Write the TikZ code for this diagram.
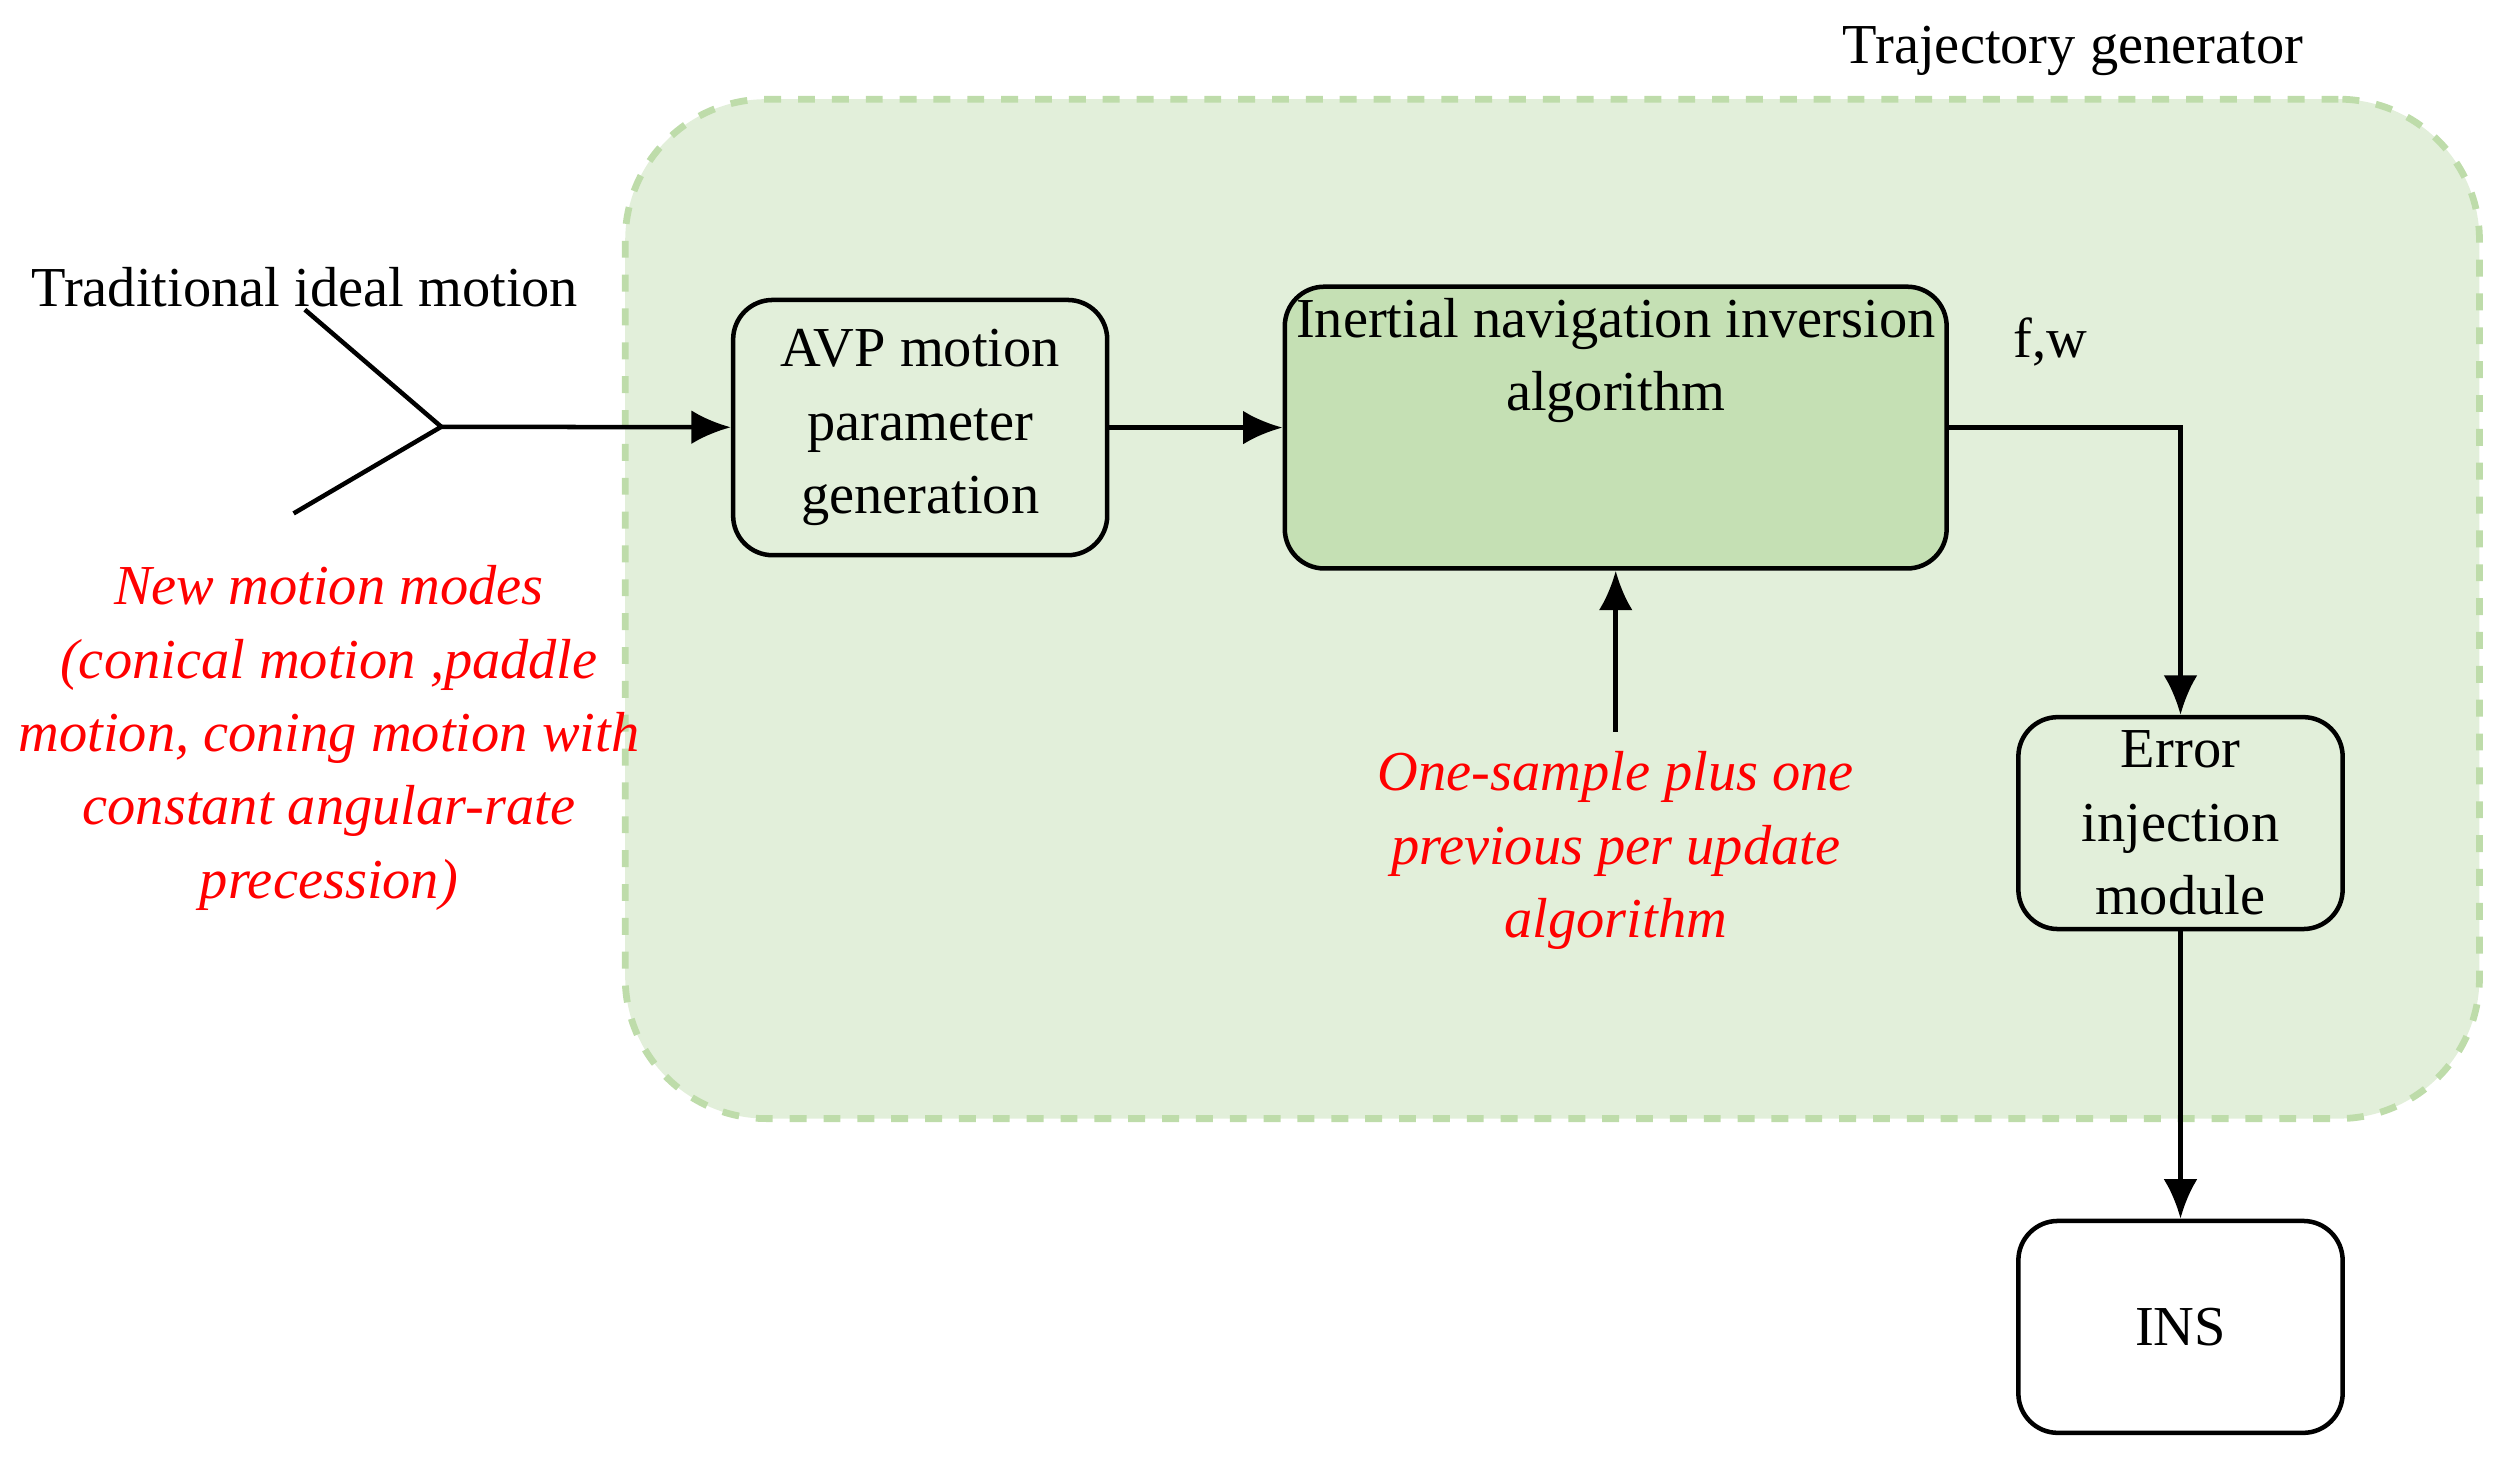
\documentclass[tikz,border=0pt]{standalone}
\usepackage{fontspec}
\setmainfont{Liberation Serif}
\usetikzlibrary{arrows.meta}
\definecolor{bggreen}{RGB}{226,239,218}
\definecolor{boxgreen}{RGB}{197,224,180}
\definecolor{dashgreen}{RGB}{190,220,170}
\tikzstyle{block}=[draw,thick,rounded corners=7pt,align=center,font=\fontsize{10}{13}\selectfont,inner sep=2pt]
\tikzstyle{link}=[draw,thick,-{Latex[length=7pt,width=6pt]}]
\tikzstyle{note}=[text=red,font=\fontsize{10}{13}\selectfont\itshape,align=center]

\begin{document}
\begin{tikzpicture}[x=0.01cm,y=-0.01cm]
        \useasboundingbox (0,0) rectangle (1560,910);
        \node[draw=dashgreen,fill=bggreen,dashed,line width=1.2pt,rounded corners=25pt,minimum width=11.55cm,minimum height=6.35cm] (tg) at (967.5,379.5) {};
        \node[font=\fontsize{10}{13}\selectfont] (tgl) at (1292,32) {Trajectory generator};

        \node[block,fill=bggreen,minimum width=2.33cm,minimum height=1.59cm] (avp) at (573.5,266.5) {AVP motion\\parameter\\generation};
        \node[block,fill=boxgreen,minimum width=3.98cm,minimum height=1.59cm] (inv) at (1007,266.5) {Inertial navigation inversion\\algorithm\\[1.3em]};
        \node[block,fill=bggreen,minimum width=2.02cm,minimum height=1.32cm] (err) at (1359,513) {Error\\injection\\module};
        \node[block,fill=white,minimum width=2.02cm,minimum height=1.32cm] (ins) at (1359,827) {INS};

        \node[font=\fontsize{10}{13}\selectfont] (trad) at (190,179) {Traditional ideal motion};
        \node[note] (modes) at (205,460) {New motion modes\\(conical motion ,paddle\\motion, coning motion with\\constant angular-rate\\precession)};
        \node[note,anchor=north] (osp) at (1007,456) {One-sample plus one\\previous per update\\algorithm};
        \node[font=\fontsize{10}{13}\selectfont] (fw) at (1278,213) {f,w};

        \coordinate (fork) at (275,266);
        \coordinate (up) at (190,193);
        \coordinate (down) at (183,320);
        \path[draw,thick] (up) -- (fork) -- (down);
        \path[link] (fork) -- (avp);
        \path[link] (avp) -- (inv);
        \path[link] (inv.east) -| (err.north);
        \path[link] (err) -- (ins);
        \path[link] (osp.north) -- (inv.south);
    \end{tikzpicture}
\end{document}
